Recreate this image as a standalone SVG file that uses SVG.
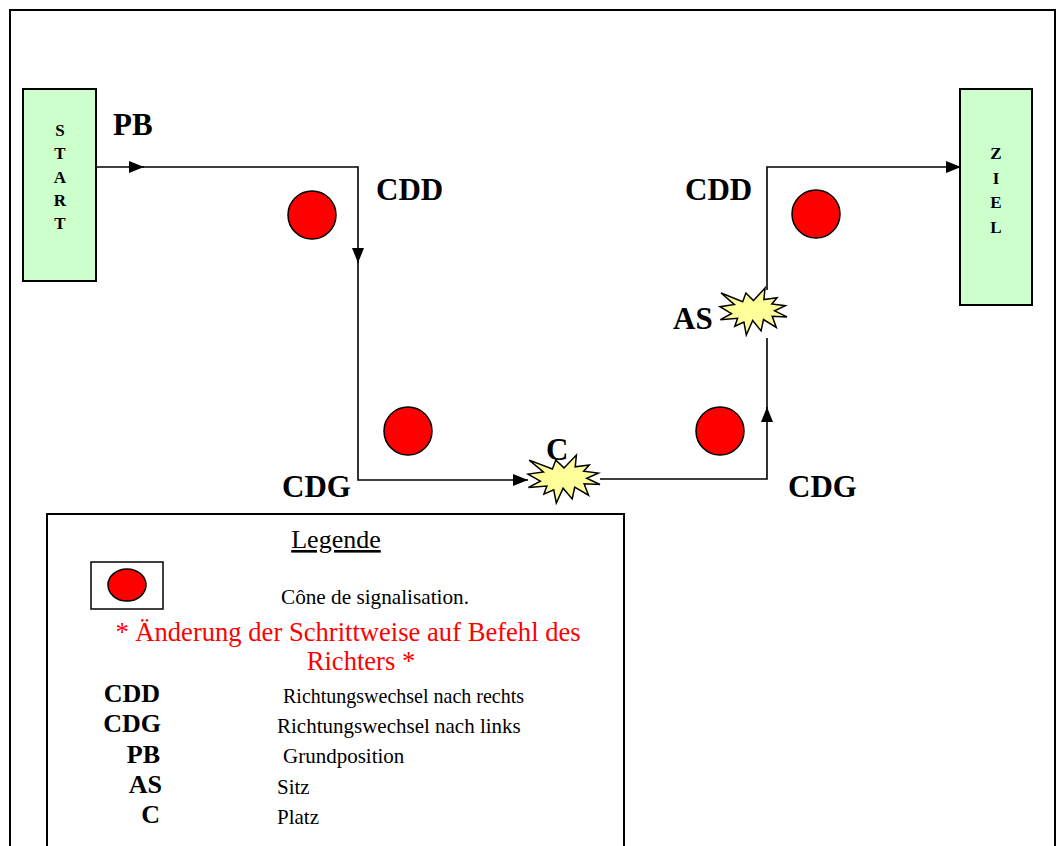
<svg xmlns="http://www.w3.org/2000/svg" width="1057" height="846" viewBox="0 0 1057 846">
<style>
.frame{fill:none;stroke:#000;stroke-width:2}
.box{fill:#CCFFCC;stroke:#000;stroke-width:2}
.cone{fill:#FF0000;stroke:#000;stroke-width:1.5}
.star{fill:#FFFF99;stroke:#000;stroke-width:1.5;stroke-linejoin:miter}
.conn{fill:none;stroke:#000;stroke-width:1.6}
.lbl{font-family:"Liberation Serif","Times New Roman",serif;font-weight:bold;font-size:31px;fill:#000}
.vl{font-family:"Liberation Serif","Times New Roman",serif;font-weight:bold;font-size:17px;fill:#000;text-anchor:middle}
.txt{font-family:"Liberation Serif","Times New Roman",serif;font-size:21px;fill:#000}
.key{font-family:"Liberation Serif","Times New Roman",serif;font-weight:bold;font-size:26px;fill:#000;text-anchor:end}
.red{font-family:"Liberation Serif","Times New Roman",serif;font-size:26.6px;fill:#FF0000;text-anchor:middle}
</style>
<defs>
<marker id="arr" markerUnits="userSpaceOnUse" markerWidth="16" markerHeight="12" refX="15" refY="6" orient="auto">
<path d="M0,0 L15,6 L0,12 z" fill="#000"/>
</marker>
</defs>
<rect width="1057" height="846" fill="#fff"/>
<rect class="frame" x="10" y="10" width="1045" height="860"/>

<g id="start">
<rect class="box" x="23" y="89" width="73" height="192"/>
<text class="vl" x="60" y="136">S</text>
<text class="vl" x="60" y="159">T</text>
<text class="vl" x="60" y="183">A</text>
<text class="vl" x="60" y="206">R</text>
<text class="vl" x="60" y="229">T</text>
</g>

<g id="ziel">
<rect class="box" x="960" y="89" width="72" height="216"/>
<text class="vl" x="996" y="159">Z</text>
<text class="vl" x="996" y="184">I</text>
<text class="vl" x="996" y="208">E</text>
<text class="vl" x="996" y="233">L</text>
</g>

<g id="cones">
<circle class="cone" cx="312" cy="215" r="24"/>
<circle class="cone" cx="408" cy="431" r="24"/>
<circle class="cone" cx="720" cy="431" r="24"/>
<circle class="cone" cx="816" cy="214" r="24"/>
</g>

<g id="connectors">
<polyline class="conn" points="96,167 144,167" marker-end="url(#arr)"/>
<polyline class="conn" points="143,167 358,167 358,263" marker-end="url(#arr)"/>
<polyline class="conn" points="358,262 358,480 528,480" marker-end="url(#arr)"/>
<polyline class="conn" points="600,479 767,479 767,407" marker-end="url(#arr)"/>
<polyline class="conn" points="767,408 767,338"/>
<polyline class="conn" points="767,290 767,167 961,167" marker-end="url(#arr)"/>
</g>

<g id="star-c">
<polygon class="star" points="564,467.9 576.4,455 575.2,466.8 589.3,464.9 583.7,471.3 598.3,473.1 586.7,478.3 600,484.5 584.1,483.8 588.5,495.2 574.7,487.1 572.2,498.9 563.1,488.2 556.3,503 553.7,489.7 543.9,494.1 546.9,486 528.5,487.4 540.4,481.2 528,474.1 543.4,471.9 529.2,460.1 552.4,469 555.8,460.1"/>
</g>

<g id="star-as">
<polygon class="star" points="753.5,300.6 765,288 763.9,299.6 777,297.7 771.8,303.9 785.4,305.7 774.6,310.8 787,316.9 772.2,316.2 776.3,327.4 763.5,319.5 761.1,330.9 752.7,320.5 746.3,335 743.9,322 734.8,326.3 737.6,318.3 720.4,319.7 731.5,313.6 720,306.7 734.4,304.6 721.1,293 742.7,301.8 745.9,293"/>
</g>

<g id="labels">
<text class="lbl" x="113" y="135">PB</text>
<text class="lbl" x="376" y="200">CDD</text>
<text class="lbl" x="282" y="497">CDG</text>
<text class="lbl" x="546" y="460">C</text>
<text class="lbl" x="788" y="497">CDG</text>
<text class="lbl" x="685" y="200">CDD</text>
<text class="lbl" x="673" y="329">AS</text>
</g>

<g id="legend">
<rect class="frame" x="47" y="514" width="577" height="360" stroke-width="1.8"/>
<text x="336" y="548" font-family="Liberation Serif, Times New Roman, serif" font-size="26" text-anchor="middle" text-decoration="underline">Legende</text>
<rect x="91" y="562" width="72" height="47" fill="#fff" stroke="#000" stroke-width="1.5"/>
<ellipse class="cone" cx="127" cy="585" rx="19" ry="16"/>
<text class="txt" x="281" y="604" textLength="188" lengthAdjust="spacingAndGlyphs">Cône de signalisation.</text>
<text class="red" x="348" y="641">* Änderung der Schrittweise auf Befehl des</text>
<text class="red" x="361" y="670">Richters *</text>
<text class="key" x="160" y="702">CDD</text>
<text class="key" x="161" y="732">CDG</text>
<text class="key" x="160" y="763">PB</text>
<text class="key" x="162" y="793">AS</text>
<text class="key" x="160" y="823">C</text>
<text class="txt" x="283" y="703" textLength="241" lengthAdjust="spacingAndGlyphs">Richtungswechsel nach rechts</text>
<text class="txt" x="277" y="733">Richtungswechsel nach links</text>
<text class="txt" x="283" y="763">Grundposition</text>
<text class="txt" x="277" y="794">Sitz</text>
<text class="txt" x="277" y="824">Platz</text>
</g>
</svg>
